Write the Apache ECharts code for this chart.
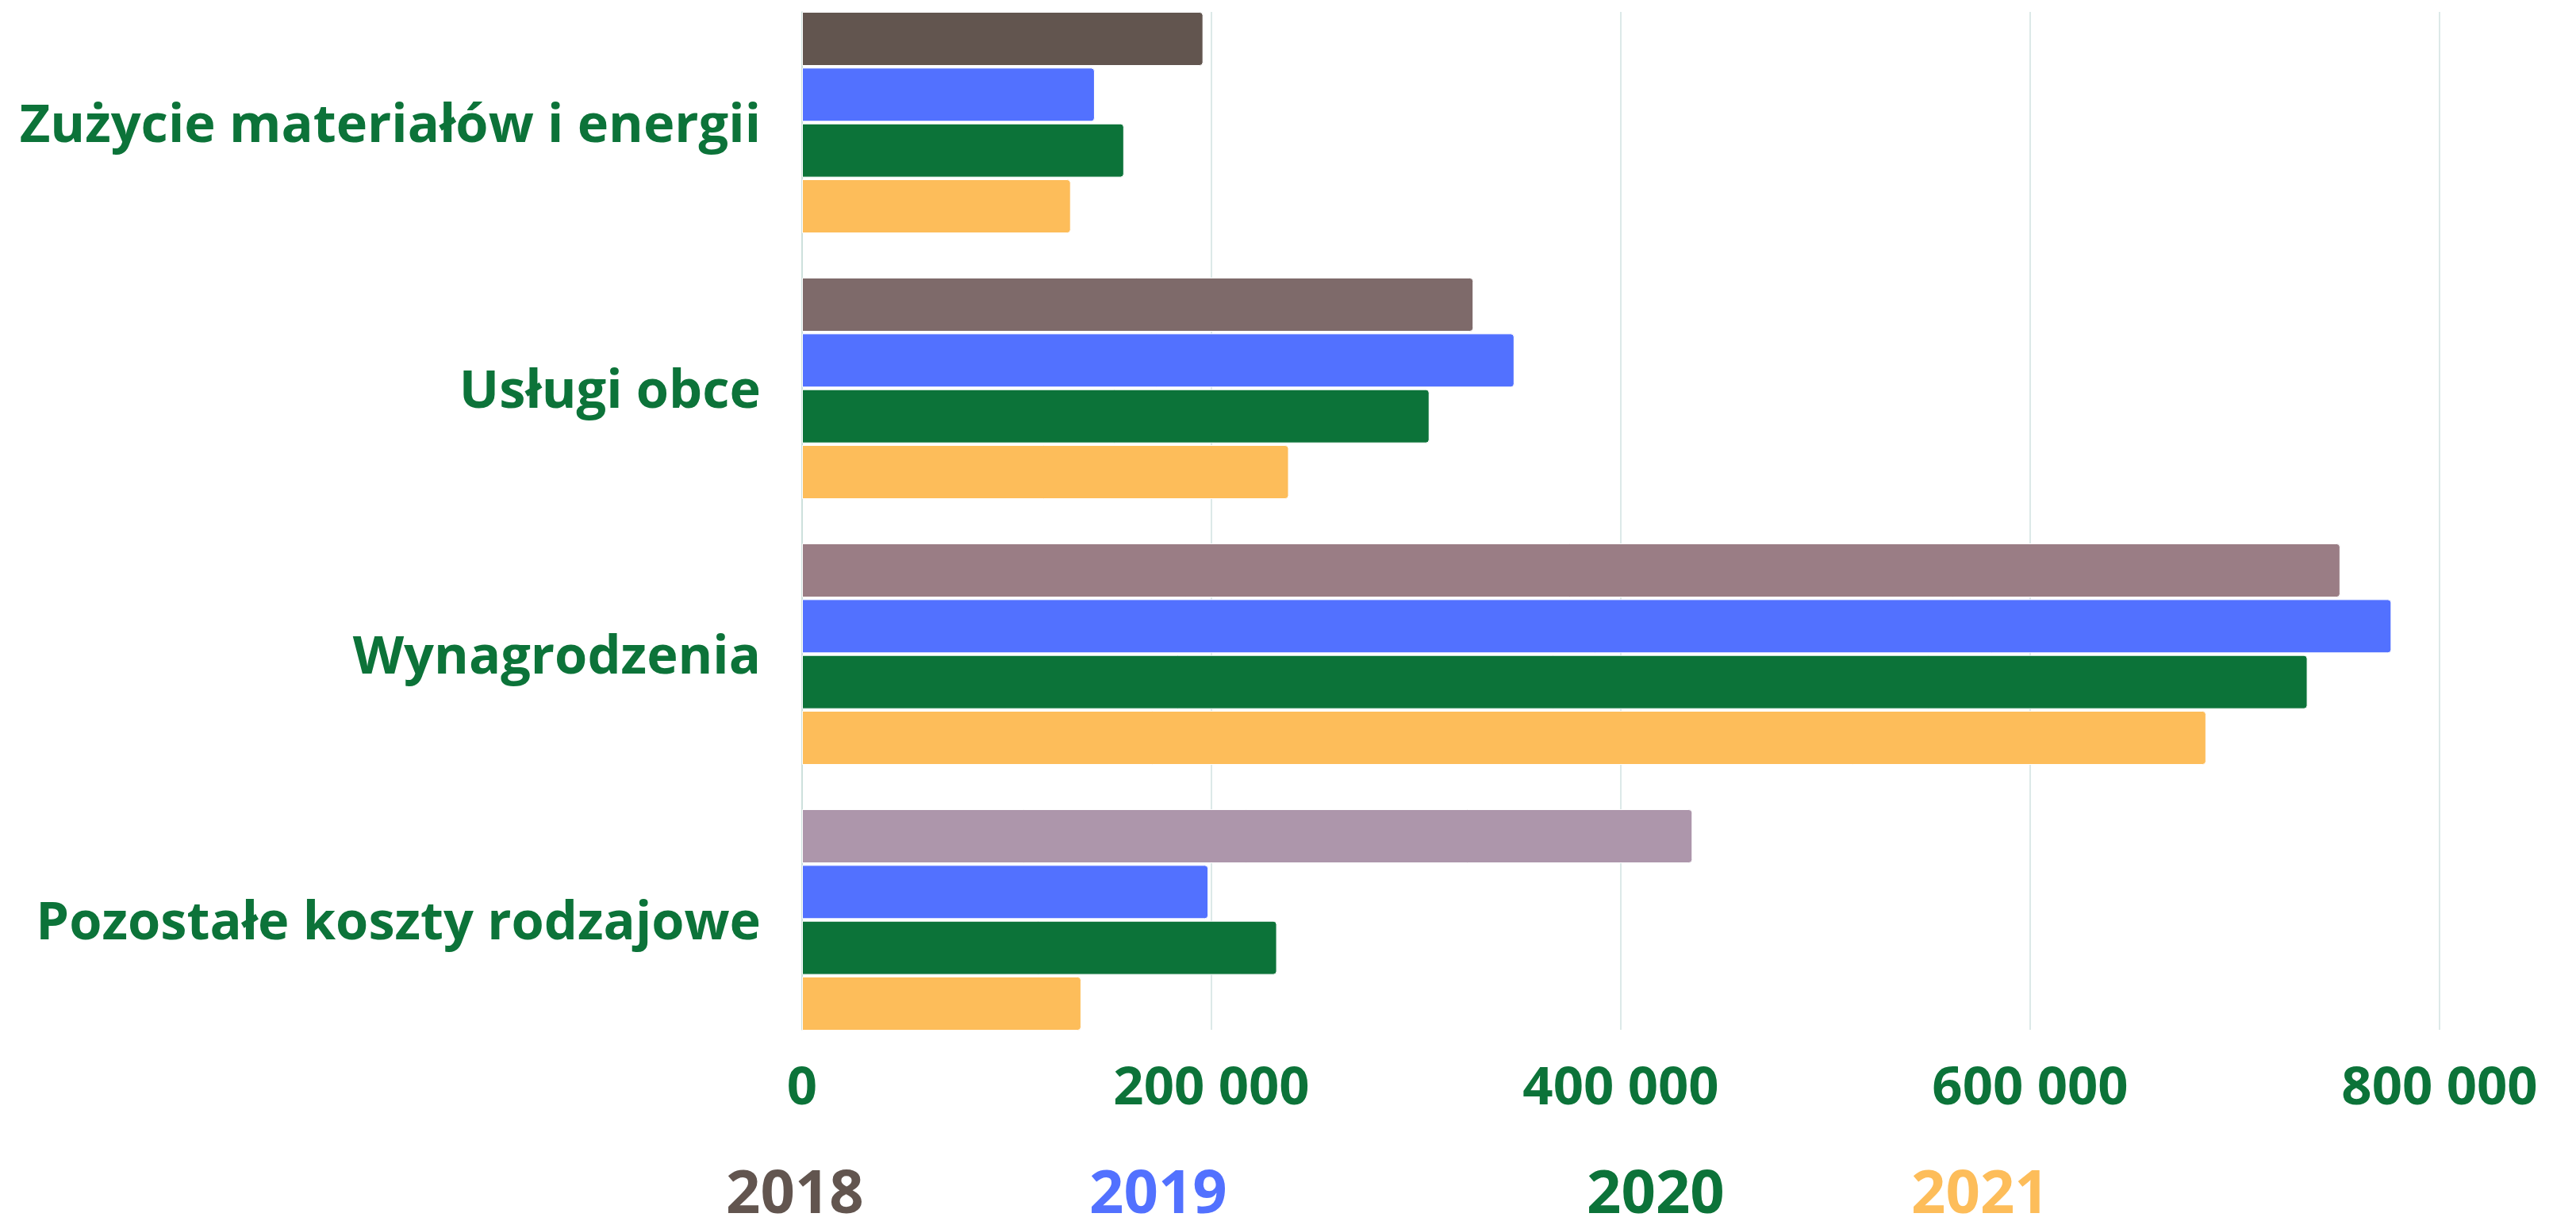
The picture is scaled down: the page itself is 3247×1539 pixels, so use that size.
<!DOCTYPE html>
<html>
<head>
<meta charset="utf-8">
<script src="https://cdn.jsdelivr.net/npm/echarts@6/dist/echarts.min.js"></script>
<style>
html,body{margin:0;padding:0;background:#fff;overflow:hidden;}
#c{width:3247px;height:1559px;margin-top:-20px;}
</style>
</head>
<body>
<div id="c"></div>
<script>
const categories = ['Zużycie materiałów i energii', 'Usługi obce', 'Wynagrodzenia', 'Pozostałe koszty rodzajowe'];
const years = ['2018', '2019', '2020', '2021'];
const v2018 = [196000, 328000, 751500, 435000];
const v2019 = [143000, 348000, 776500, 198500];
const v2020 = [157300, 306500, 735500, 232000];
const v2021 = [131300, 237800, 686000, 136400];
const xTicks = [0, 200000, 400000, 600000, 800000];

const colors2018 = ['#62554f', '#7e6a6a', '#9a7d85', '#ad96ab'];
const seriesColors = ['#62554f', '#5271ff', '#0c7339', '#fdbd5a'];
const green = '#0c7339';
const font = "'Open Sans'";
const OFF = 20; // container shifted up by this many px

const chart = echarts.init(document.getElementById('c'));
const fmt = v => String(v).replace(/\B(?=(\d{3})+(?!\d))/g, ' ');

const values = [v2018, v2019, v2020, v2021];
const series = years.map((y, i) => ({
  name: y,
  type: 'bar',
  xAxisIndex: 0,
  yAxisIndex: 0,
  barCategoryGap: '16.7%',
  barGap: '3.4%',
  itemStyle: { color: seriesColors[i], borderColor: '#fff', borderWidth: 1, borderRadius: [0, 4, 4, 0] },
  data: values[i].map((v, k) => i === 0 ? { value: v, itemStyle: { color: colors2018[k] } } : v)
}));

const legendLeft = [910, 1368, 1995, 2404];
chart.setOption({
  animation: false,
  backgroundColor: '#fff',
  grid: [
    { left: 1011, width: 2064, top: -13 + OFF, height: 1340 },
    { left: 1011, width: 2064, top: 15 + OFF, height: 1283 }
  ],
  xAxis: [
    { gridIndex: 0, type: 'value', min: 0, max: 800000, interval: 200000, show: false, splitLine: { show: false } },
    { gridIndex: 1, type: 'value', min: xTicks[0], max: xTicks[xTicks.length - 1], interval: 200000,
      axisLine: { show: false }, axisTick: { show: false },
      splitLine: { show: true, lineStyle: { color: '#d0e2e0', width: 1.5 } },
      axisLabel: { margin: 41, color: green, fontFamily: font, fontWeight: 'bold', fontSize: 67, formatter: fmt } }
  ],
  yAxis: [
    { gridIndex: 0, type: 'category', data: categories, inverse: true,
      axisLine: { show: false }, axisTick: { show: false },
      axisLabel: { margin: 52, formatter: v => '{a|' + v + '}',
        rich: { a: { padding: [10, 0, 0, 0], color: green, fontFamily: font, fontWeight: 'bold', fontSize: 66.7 } },
        color: green, fontFamily: font, fontWeight: 'bold', fontSize: 66.7 } },
    { gridIndex: 1, type: 'value', min: 0, max: 1,
      axisLine: { show: true, lineStyle: { color: '#c9dcd9', width: 1.5 } },
      axisTick: { show: false }, axisLabel: { show: false }, splitLine: { show: false } }
  ],
  legend: years.map((y, i) => ({
    data: [y], left: legendLeft[i], top: 1469 + OFF, padding: 0,
    icon: 'none', itemWidth: 0, itemHeight: 0, selectedMode: false,
    textStyle: { color: seriesColors[i], fontFamily: font, fontWeight: 'bold', fontSize: 76 }
  })),
  series: series
});
</script>
</body>
</html>
